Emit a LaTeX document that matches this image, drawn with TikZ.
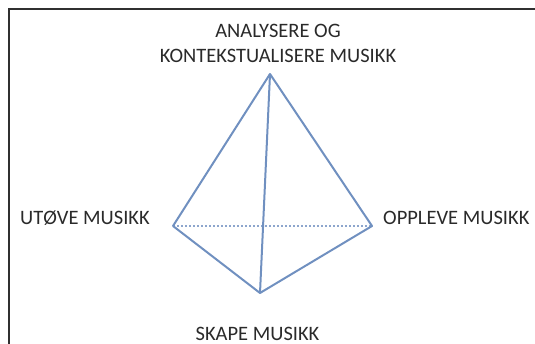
\documentclass[tikz,border=0pt]{standalone}
\usepackage{fontspec}
\setmainfont{Carlito}
\definecolor{edge}{HTML}{7090C0}
\definecolor{txt}{HTML}{2A2A2A}
\definecolor{frame}{HTML}{303030}
\begin{document}
\begin{tikzpicture}[x=1pt,y=-1pt,
  edgeline/.style={draw=edge,line width=2pt,line join=round},
  hidden/.style={draw=edge!80,line width=2pt,dotted},
  lbl/.style={inner sep=0pt,text=txt,font=\fontsize{20.5}{25}\selectfont}]
\useasboundingbox (0,0) rectangle (535,344);
\draw[frame,line width=2pt] (8.5,344) -- (8.5,9.5) -- (535,9.5);
\coordinate (A) at (270,74);
\coordinate (L) at (173,226);
\coordinate (R) at (372,226);
\coordinate (B) at (260,293);
\draw[hidden] (L) -- (R);
\draw[edgeline] (L) -- (A) -- (R) -- (B) -- cycle;
\draw[edgeline] (A) -- (B);
\node[lbl,anchor=base,align=center] (la) at (278,63) {ANALYSERE OG\\KONTEKSTUALISERE MUSIKK};
\node[lbl,anchor=base west] (ll) at (20,225) {UTØVE MUSIKK};
\node[lbl,anchor=base west] (lr) at (383,225) {OPPLEVE MUSIKK};
\node[lbl,anchor=base] (lb) at (257.5,340) {SKAPE MUSIKK};
\end{tikzpicture}
\end{document}
